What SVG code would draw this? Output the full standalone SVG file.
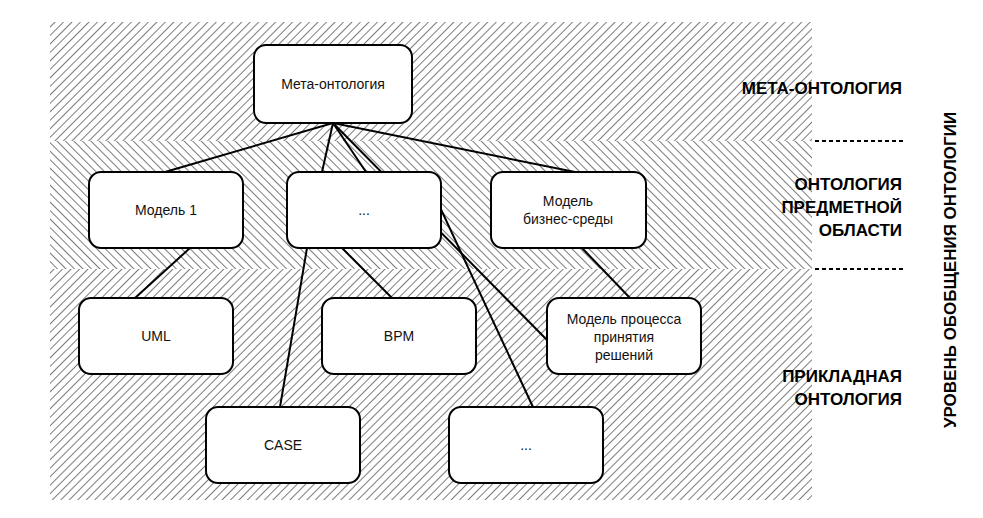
<svg xmlns="http://www.w3.org/2000/svg" width="983" height="518" viewBox="0 0 983 518">
<defs>
<pattern id="hb" patternUnits="userSpaceOnUse" width="6" height="6" patternTransform="rotate(45)"><rect width="6" height="6" fill="#fff"/><line x1="0" y1="0" x2="0" y2="6" stroke="#444" stroke-width="1.4"/></pattern>
<pattern id="hf" patternUnits="userSpaceOnUse" width="6" height="6" patternTransform="rotate(-45)"><rect width="6" height="6" fill="#fff"/><line x1="0" y1="0" x2="0" y2="6" stroke="#444" stroke-width="1.4"/></pattern>
</defs>
<style>
.n rect{fill:#fff;stroke:#000;stroke-width:2}
.n text{font-family:"Liberation Sans",Arial,sans-serif;font-size:14px;text-anchor:middle;fill:#111}
.c line{stroke:#000;stroke-width:2}
.b{font-family:"Liberation Sans",Arial,sans-serif;font-size:17px;font-weight:bold;text-anchor:end;fill:#000}
</style>
<rect width="983" height="518" fill="#fff"/>
<rect x="50" y="22" width="762" height="119" fill="url(#hb)"/>
<rect x="50" y="141" width="762" height="128" fill="url(#hf)"/>
<rect x="50" y="269" width="762" height="231" fill="url(#hb)"/>
<g class="c">
<line x1="333" y1="123" x2="165" y2="172"/>
<line x1="333" y1="123" x2="322" y2="172"/>
<line x1="333" y1="123" x2="366" y2="172"/>
<line x1="333" y1="123" x2="547" y2="340"/>
<line x1="333" y1="123" x2="575" y2="172"/>
<line x1="190" y1="248" x2="135" y2="298"/>
<line x1="307" y1="248" x2="280" y2="407"/>
<line x1="342" y1="248" x2="392" y2="298"/>
<line x1="425" y1="175" x2="533" y2="407"/>
<line x1="582" y1="248" x2="630" y2="298"/>
<line x1="815" y1="141" x2="905" y2="141" stroke-dasharray="4,3"/>
<line x1="815" y1="269" x2="905" y2="269" stroke-dasharray="4,3"/>
</g>
<g id="meta" class="n"><rect x="254" y="45" width="158" height="78" rx="12"/><text x="333" y="89">Мета-онтология</text></g>
<g id="m1" class="n"><rect x="89" y="172" width="154" height="76" rx="12"/><text x="166" y="215">Модель 1</text></g>
<g id="dots1" class="n"><rect x="287" y="172" width="154" height="76" rx="12"/><text x="364" y="215">...</text></g>
<g id="biz" class="n"><rect x="491" y="172" width="155" height="76" rx="12"/><text x="568" y="206">Модель</text><text x="568" y="224">бизнес-среды</text></g>
<g id="uml" class="n"><rect x="79" y="298" width="154" height="76" rx="12"/><text x="156" y="341">UML</text></g>
<g id="bpm" class="n"><rect x="322" y="298" width="154" height="76" rx="12"/><text x="399" y="341">BPM</text></g>
<g id="proc" class="n"><rect x="547" y="298" width="154" height="76" rx="12"/><text x="624" y="324">Модель процесса</text><text x="624" y="342">принятия</text><text x="624" y="360">решений</text></g>
<g id="case" class="n"><rect x="206" y="407" width="154" height="76" rx="12"/><text x="283" y="450">CASE</text></g>
<g id="dots2" class="n"><rect x="449" y="407" width="154" height="76" rx="12"/><text x="526" y="450">...</text></g>
<text class="b" x="902" y="94">МЕТА-ОНТОЛОГИЯ</text>
<text class="b" x="902" y="190">ОНТОЛОГИЯ</text>
<text class="b" x="902" y="213">ПРЕДМЕТНОЙ</text>
<text class="b" x="902" y="236">ОБЛАСТИ</text>
<text class="b" x="902" y="382">ПРИКЛАДНАЯ</text>
<text class="b" x="902" y="405">ОНТОЛОГИЯ</text>
<text class="b" transform="translate(956,270) rotate(-90)" style="text-anchor:middle">УРОВЕНЬ ОБОБЩЕНИЯ ОНТОЛОГИИ</text>
</svg>
